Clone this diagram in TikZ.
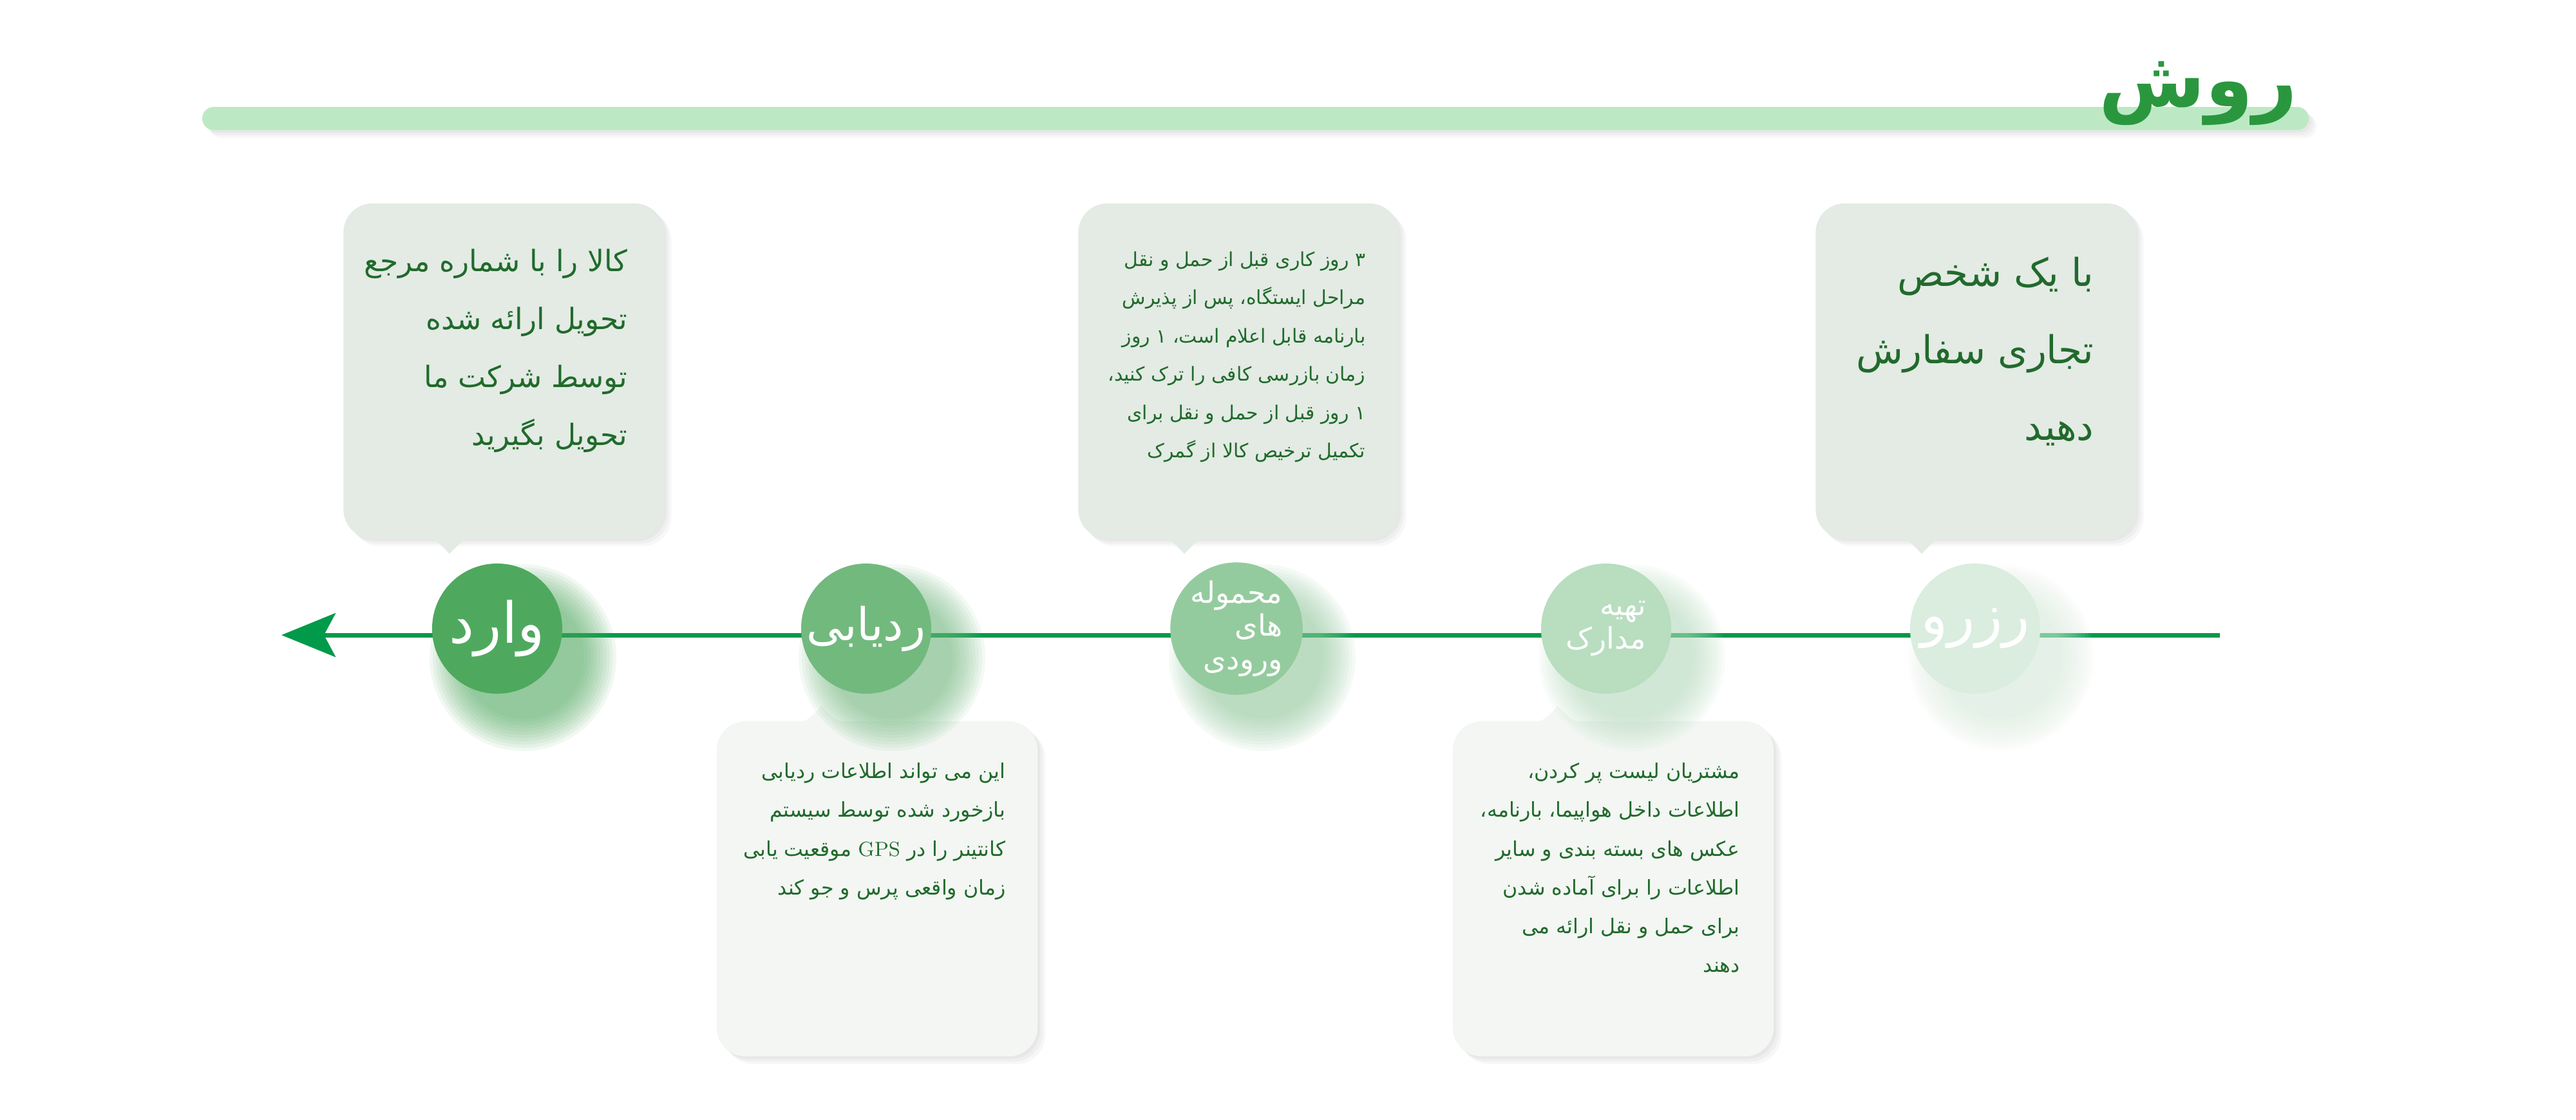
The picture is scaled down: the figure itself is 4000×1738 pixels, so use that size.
\documentclass[tikz,border=0pt]{standalone}
\usepackage{fontspec}
\usepackage{tikz}
\usetikzlibrary{arrows.meta,shadows,positioning}
\TeXXeTstate=1
\newfontfamily\arabicfont[Script=Arabic]{DejaVu Sans}
\newcommand{\rline}[1]{\beginR#1\endR}

\definecolor{titlegreen}{HTML}{2A973E}
\definecolor{barlight}{HTML}{BCE9C4}
\definecolor{linegreen}{HTML}{009A4A}
\definecolor{notetop}{HTML}{E3EBE4}
\definecolor{notebottom}{HTML}{F3F6F3}
\definecolor{notetext}{HTML}{216A2C}
\definecolor{stepA}{HTML}{4EA95E}
\definecolor{stepB}{HTML}{72B97E}
\definecolor{stepC}{HTML}{94CB9E}
\definecolor{stepD}{HTML}{B8DDBF}
\definecolor{stepE}{HTML}{DAEDDE}

\tikzstyle{soft_shadow} = [general shadow={fill=black, opacity=0.03, shadow xshift=0.04cm, shadow yshift=-0.04cm}, general shadow={fill=black, opacity=0.03, shadow xshift=0.08cm, shadow yshift=-0.08cm}, general shadow={fill=black, opacity=0.03, shadow xshift=0.12cm, shadow yshift=-0.12cm}]
\tikzstyle{title_bar} = [fill=barlight, rounded corners=0.18cm, soft_shadow]
\tikzstyle{title_text} = [anchor=base east, inner sep=0pt, text=titlegreen, font=\arabicfont\bfseries\fontsize{34}{36}\selectfont]
\tikzstyle{timeline} = [draw=linegreen, line width=0.07cm, -{Stealth[length=0.84cm, width=0.68cm, inset=0.18cm]}]
\tikzstyle{note_top} = [rectangle, rounded corners=0.45cm, minimum width=4.97cm, minimum height=5.2cm, inner sep=0pt, fill=notetop, soft_shadow]
\tikzstyle{note_bottom} = [rectangle, rounded corners=0.45cm, minimum width=4.98cm, minimum height=5.2cm, inner sep=0pt, fill=notebottom, soft_shadow]
\tikzstyle{note_text} = [anchor=north east, inner sep=0pt, align=right, text=notetext]
\tikzstyle{step_glow} = [opacity=0.08]
\tikzstyle{step_big} = [font=\arabicfont\fontsize{25}{28}\selectfont]
\tikzstyle{step_small} = [font=\arabicfont\fontsize{13}{14.6}\selectfont]
\tikzset{step_circle/.style={circle, minimum size=2.02cm, inner sep=0pt, align=right, text=white, fill=#1}}

\begin{document}
\begin{tikzpicture}[x=0.01cm, y=-0.01cm]
		\useasboundingbox[fill=white] (0,0) rectangle (4000,1738);
		% title
		\fill[title_bar] (314,166) rectangle (3585,202);
		\node (title) at (3568,165) [title_text] {\rline{روش}};
		
		% boxes
		\node (box_vared) at (782,576) [note_top] {};
		\node (box_mahmule) at (1923,576) [note_top] {};
		\node (box_rezerv) at (3068,576) [note_top] {};
		\node (box_radyabi) at (1362,1380) [note_bottom] {};
		\node (box_madarek) at (2505,1380) [note_bottom] {};
		\foreach \bx in {box_vared,box_mahmule,box_rezerv}
			\fill[notetop] ([xshift=-1.25cm,yshift=0.02cm]\bx.south) .. controls ([xshift=-1.06cm]\bx.south) .. ([xshift=-0.84cm,yshift=-0.23cm]\bx.south) .. controls ([xshift=-0.62cm]\bx.south) .. ([xshift=-0.43cm,yshift=0.02cm]\bx.south) -- cycle;
		\foreach \bx in {box_radyabi,box_madarek}
			\fill[notebottom] ([xshift=-1.27cm,yshift=-0.02cm]\bx.north) .. controls ([xshift=-1.08cm]\bx.north) .. ([xshift=-0.86cm,yshift=0.23cm]\bx.north) .. controls ([xshift=-0.64cm]\bx.north) .. ([xshift=-0.45cm,yshift=-0.02cm]\bx.north) -- cycle;
		
		\node (text_vared) at (975,386) [note_text, font=\arabicfont\fontsize{13}{25.6}\selectfont] {\rline{کالا را با شماره مرجع}\\\rline{تحویل ارائه شده}\\\rline{توسط شرکت ما}\\\rline{تحویل بگیرید}};
		\node (text_mahmule) at (2121,390) [note_text, font=\arabicfont\fontsize{8.5}{16.9}\selectfont] {\rline{۳ روز کاری قبل از حمل و نقل}\\\rline{مراحل ایستگاه، پس از پذیرش}\\\rline{بارنامه قابل اعلام است، ۱ روز}\\\rline{زمان بازرسی کافی را ترک کنید،}\\\rline{۱ روز قبل از حمل و نقل برای}\\\rline{تکمیل ترخیص کالا از گمرک}};
		\node (text_rezerv) at (3252,398) [note_text, font=\arabicfont\fontsize{17}{34.1}\selectfont] {\rline{با یک شخص}\\\rline{تجاری سفارش}\\\rline{دهید}};
		\node (text_radyabi) at (1562,1184) [note_text, font=\arabicfont\fontsize{9}{17.1}\selectfont] {\rline{این می تواند اطلاعات ردیابی}\\\rline{بازخورد شده توسط سیستم}\\\rline{کانتینر را در \beginL{\rmfamily GPS}\endL{} موقعیت یابی}\\\rline{زمان واقعی پرس و جو کند}};
		\node (text_madarek) at (2702,1184) [note_text, font=\arabicfont\fontsize{9}{17.1}\selectfont] {\rline{مشتریان لیست پر کردن،}\\\rline{اطلاعات داخل هواپیما، بارنامه،}\\\rline{عکس های بسته بندی و سایر}\\\rline{اطلاعات را برای آماده شدن}\\\rline{برای حمل و نقل ارائه می}\\\rline{دهند}};
		
		% timeline
		\coordinate (line_start) at (3447,986);
		\coordinate (arrow_tip) at (437,986);
		\draw[timeline] (line_start) -- (arrow_tip);
		
		% steps
		\foreach \cx/\col in {772/stepA,1345/stepB,1920/stepC,2494/stepD,3067/stepE}
			\foreach \r in {95,100,...,145}
				\fill[\col, step_glow] (\cx+40,1021) circle (\r);
		\node (vared) at (772,976) [step_circle=stepA, step_big] {\rline{وارد}};
		\node (radyabi) at (1345,976) [step_circle=stepB, step_big, font=\arabicfont\fontsize{20}{24}\selectfont] {\rline{ردیابی}};
		\node (mahmule) at (1920,976) [step_circle=stepC, step_small] {\rline{محموله}\\\rline{های}\\\rline{ورودی}};
		\node (madarek) at (2494,976) [step_circle=stepD, step_small] {\rline{تهیه}\\\rline{مدارک}};
		\node (rezerv) at (3067,976) [step_circle=stepE, step_big] {\rline{رزرو}};
\end{tikzpicture}
\end{document}
